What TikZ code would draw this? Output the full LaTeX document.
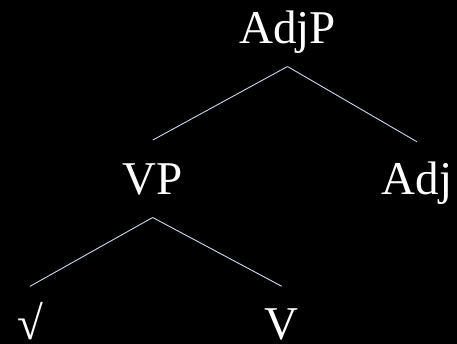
\documentclass[tikz,border=0pt]{standalone}
\usepackage{fontspec}
\newfontfamily\catfont{Liberation Serif}
\definecolor{edgecol}{RGB}{205,215,235}
\begin{document}
\begin{tikzpicture}[x=1pt,y=-1pt,
  cat/.style={text=white,font=\catfont\fontsize{47}{47}\selectfont,anchor=base,
    inner xsep=0pt,inner ysep=23pt,text height=31pt,text depth=0pt},
  leaf/.style={cat,inner ysep=1pt,text height=52pt},
  branch/.style={draw=edgecol,line width=0.9pt}]
  \fill[black] (0,0) rectangle (457,344);
  \useasboundingbox (0,0) rectangle (457,344);
  % categories
  \node[cat]  (adjp) at (287.5,43.3) {AdjP};
  \node[cat]  (vp)   at (152.7,194.3) {VP};
  \node[leaf] (adj)  at (417,195) {Adj};
  \node[leaf] (root) at (30,339.5) {√};
  \node[leaf] (v)    at (281.7,339.5) {V};
  % branches
  \draw[branch] (adjp.south) -- (vp.north);
  \draw[branch] (adjp.south) -- (adj.north);
  \draw[branch] (vp.south) -- (root.north);
  \draw[branch] (vp.south) -- (v.north);
\end{tikzpicture}
\end{document}
